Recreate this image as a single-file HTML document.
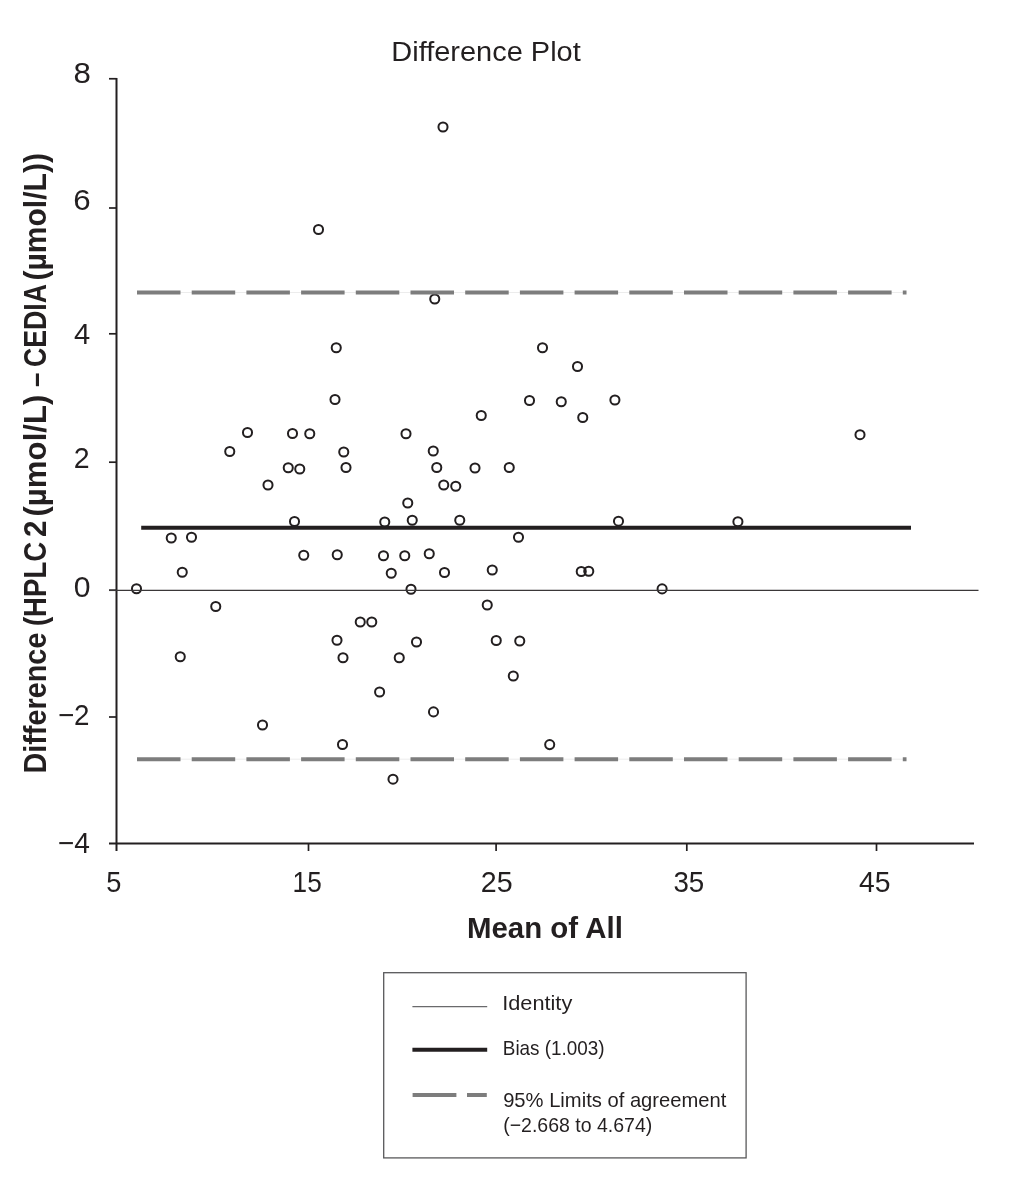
<!DOCTYPE html>
<html lang="en">
<head>
<meta charset="utf-8">
<title>Difference Plot</title>
<style>
html,body{margin:0;padding:0;background:#fff;}
body{width:1014px;height:1200px;overflow:hidden;font-family:"Liberation Sans",sans-serif;}
svg{display:block;}
text{font-family:"Liberation Sans",sans-serif;fill:#231f20;}
.tick text{font-size:29.5px;}
.ax line{stroke:#231f20;stroke-width:2;}
.ax line.tk{stroke-width:1.7;}
.pts circle{fill:none;stroke:#231f20;stroke-width:2;}
</style>
</head>
<body>
<svg width="1014" height="1200" viewBox="0 0 1014 1200">
<rect width="1014" height="1200" fill="#fff"/>
<text x="391.33" y="61.0" font-size="27.5" textLength="189.40" lengthAdjust="spacingAndGlyphs">Difference Plot</text>
<g class="ax">
<line x1="116.5" y1="77.9" x2="116.5" y2="851"/>
<line x1="109" y1="843.4" x2="974" y2="843.4"/>
<line class="tk" x1="109" y1="78.75" x2="116.6" y2="78.75"/>
<line class="tk" x1="109" y1="208" x2="116.6" y2="208"/>
<line class="tk" x1="109" y1="333.8" x2="116.6" y2="333.8"/>
<line class="tk" x1="109" y1="462.2" x2="116.6" y2="462.2"/>
<line class="tk" x1="109" y1="590.2" x2="116.6" y2="590.2"/>
<line class="tk" x1="109" y1="717" x2="116.6" y2="717"/>
<line class="tk" x1="308.5" y1="843.5" x2="308.5" y2="851"/>
<line class="tk" x1="496.1" y1="843.5" x2="496.1" y2="851"/>
<line class="tk" x1="686.8" y1="843.5" x2="686.8" y2="851"/>
<line class="tk" x1="876.5" y1="843.5" x2="876.5" y2="851"/>
</g>
<g class="pts">
<circle cx="443" cy="127" r="4.55"/>
<circle cx="318.5" cy="229.5" r="4.55"/>
<circle cx="434.75" cy="299" r="4.55"/>
<circle cx="336.25" cy="347.75" r="4.55"/>
<circle cx="542.5" cy="347.75" r="4.55"/>
<circle cx="577.5" cy="366.5" r="4.55"/>
<circle cx="335" cy="399.5" r="4.55"/>
<circle cx="529.5" cy="400.5" r="4.55"/>
<circle cx="561.25" cy="401.75" r="4.55"/>
<circle cx="614.9" cy="400" r="4.55"/>
<circle cx="481.25" cy="415.5" r="4.55"/>
<circle cx="582.75" cy="417.5" r="4.55"/>
<circle cx="247.5" cy="432.5" r="4.55"/>
<circle cx="292.5" cy="433.5" r="4.55"/>
<circle cx="309.75" cy="433.75" r="4.55"/>
<circle cx="406" cy="433.75" r="4.55"/>
<circle cx="860" cy="434.7" r="4.55"/>
<circle cx="229.75" cy="451.5" r="4.55"/>
<circle cx="343.75" cy="452" r="4.55"/>
<circle cx="433.25" cy="451" r="4.55"/>
<circle cx="288.25" cy="467.75" r="4.55"/>
<circle cx="299.75" cy="469" r="4.55"/>
<circle cx="346" cy="467.5" r="4.55"/>
<circle cx="436.75" cy="467.5" r="4.55"/>
<circle cx="475" cy="468" r="4.55"/>
<circle cx="509.25" cy="467.5" r="4.55"/>
<circle cx="268" cy="485" r="4.55"/>
<circle cx="443.75" cy="485" r="4.55"/>
<circle cx="455.75" cy="486.25" r="4.55"/>
<circle cx="407.75" cy="503" r="4.55"/>
<circle cx="294.5" cy="521.5" r="4.55"/>
<circle cx="384.75" cy="522" r="4.55"/>
<circle cx="412.25" cy="520.25" r="4.55"/>
<circle cx="459.75" cy="520.25" r="4.55"/>
<circle cx="618.5" cy="521.2" r="4.55"/>
<circle cx="737.9" cy="521.7" r="4.55"/>
<circle cx="171.25" cy="538" r="4.55"/>
<circle cx="191.5" cy="537.25" r="4.55"/>
<circle cx="518.5" cy="537.25" r="4.55"/>
<circle cx="303.75" cy="555.25" r="4.55"/>
<circle cx="337.25" cy="554.75" r="4.55"/>
<circle cx="383.5" cy="555.75" r="4.55"/>
<circle cx="404.75" cy="555.75" r="4.55"/>
<circle cx="429.25" cy="553.75" r="4.55"/>
<circle cx="182.25" cy="572.25" r="4.55"/>
<circle cx="391.25" cy="573.25" r="4.55"/>
<circle cx="444.5" cy="572.5" r="4.55"/>
<circle cx="492.25" cy="570" r="4.55"/>
<circle cx="581.25" cy="571.5" r="4.55"/>
<circle cx="588.75" cy="571.25" r="4.55"/>
<circle cx="136.5" cy="588.75" r="4.55"/>
<circle cx="411" cy="589.25" r="4.55"/>
<circle cx="662.1" cy="588.9" r="4.55"/>
<circle cx="215.75" cy="606.5" r="4.55"/>
<circle cx="487.25" cy="605" r="4.55"/>
<circle cx="360.25" cy="622" r="4.55"/>
<circle cx="371.75" cy="622" r="4.55"/>
<circle cx="337" cy="640.25" r="4.55"/>
<circle cx="416.5" cy="642" r="4.55"/>
<circle cx="496.25" cy="640.5" r="4.55"/>
<circle cx="519.75" cy="641" r="4.55"/>
<circle cx="180.25" cy="656.75" r="4.55"/>
<circle cx="343" cy="657.75" r="4.55"/>
<circle cx="399.25" cy="657.75" r="4.55"/>
<circle cx="513.3" cy="676" r="4.55"/>
<circle cx="379.6" cy="692" r="4.55"/>
<circle cx="433.5" cy="711.9" r="4.55"/>
<circle cx="262.5" cy="725" r="4.55"/>
<circle cx="342.5" cy="744.5" r="4.55"/>
<circle cx="549.7" cy="744.6" r="4.55"/>
<circle cx="393" cy="779.2" r="4.55"/>
</g>
<line x1="109" y1="590.4" x2="978.5" y2="590.4" stroke="#3a3738" stroke-width="1.3"/>
<line x1="137" y1="292.5" x2="906.5" y2="292.5" stroke="#ececec" stroke-width="1"/>
<line x1="137" y1="759.2" x2="906.5" y2="759.2" stroke="#ececec" stroke-width="1"/>
<line x1="137" y1="292.5" x2="906.5" y2="292.5" stroke="#7d7d7d" stroke-width="4" stroke-dasharray="43.5 11.2"/>
<line x1="137" y1="759.2" x2="906.5" y2="759.2" stroke="#7d7d7d" stroke-width="4" stroke-dasharray="43.5 11.2"/>
<line x1="141.2" y1="527.8" x2="911" y2="527.8" stroke="#231f20" stroke-width="4"/>
<g class="tick">
<text x="73.43" y="82.5" textLength="17.38" lengthAdjust="spacingAndGlyphs">8</text>
<text x="73.21" y="210.4" textLength="17.40" lengthAdjust="spacingAndGlyphs">6</text>
<text x="74.01" y="344.3" textLength="16.20" lengthAdjust="spacingAndGlyphs">4</text>
<text x="73.75" y="467.8" textLength="15.87" lengthAdjust="spacingAndGlyphs">2</text>
<text x="73.72" y="597.3" textLength="16.77" lengthAdjust="spacingAndGlyphs">0</text>
<text x="57.89" y="724.5" textLength="31.67" lengthAdjust="spacingAndGlyphs">−2</text>
<text x="57.77" y="852.5" textLength="32.08" lengthAdjust="spacingAndGlyphs">−4</text>
<text x="106.25" y="891.5" textLength="15.13" lengthAdjust="spacingAndGlyphs">5</text>
<text x="292.61" y="891.5" textLength="29.07" lengthAdjust="spacingAndGlyphs">15</text>
<text x="480.85" y="891.5" textLength="31.84" lengthAdjust="spacingAndGlyphs">25</text>
<text x="673.43" y="891.5" textLength="30.82" lengthAdjust="spacingAndGlyphs">35</text>
<text x="859.08" y="891.5" textLength="31.49" lengthAdjust="spacingAndGlyphs">45</text>
</g>
<text transform="translate(45.8 772.0) rotate(-90)" font-size="30.5" font-weight="bold"><tspan x="-1.59" textLength="141.00" lengthAdjust="spacingAndGlyphs">Difference</tspan> <tspan x="145.94" textLength="84.20" lengthAdjust="spacingAndGlyphs">(HPLC</tspan> <tspan x="235.03" textLength="16.45" lengthAdjust="spacingAndGlyphs">2</tspan> <tspan x="255.46" textLength="122.04" lengthAdjust="spacingAndGlyphs">(µmol/L)</tspan> <tspan x="384.95" textLength="14.37" lengthAdjust="spacingAndGlyphs">–</tspan> <tspan x="404.92" textLength="82.17" lengthAdjust="spacingAndGlyphs">CEDIA</tspan> <tspan x="491.52" textLength="127.38" lengthAdjust="spacingAndGlyphs">(µmol/L))</tspan></text>
<text x="466.94" y="938.2" font-size="30" font-weight="bold" textLength="155.88" lengthAdjust="spacingAndGlyphs">Mean of All</text>
<rect x="383.7" y="972.7" width="362.4" height="185.2" fill="#fff" stroke="#58585a" stroke-width="1.3"/>
<g class="leg">
<line x1="412.4" y1="1006.6" x2="487.2" y2="1006.6" stroke="#6a6a6c" stroke-width="1.4"/>
<line x1="412.4" y1="1049.8" x2="487.2" y2="1049.8" stroke="#231f20" stroke-width="4"/>
<line x1="412.6" y1="1095" x2="486.8" y2="1095" stroke="#7d7d7d" stroke-width="4" stroke-dasharray="43.8 10.6"/>
<text x="502.21" y="1010.4" font-size="20.8" textLength="70.05" lengthAdjust="spacingAndGlyphs">Identity</text>
<text x="502.81" y="1054.9" font-size="20.8" textLength="101.85" lengthAdjust="spacingAndGlyphs">Bias (1.003)</text>
<text x="503.13" y="1106.8" font-size="20.8" textLength="223.26" lengthAdjust="spacingAndGlyphs">95% Limits of agreement</text>
<text x="503.23" y="1131.8" font-size="20.8" textLength="149.03" lengthAdjust="spacingAndGlyphs">(−2.668 to 4.674)</text>
</g>
</svg>
</body>
</html>
